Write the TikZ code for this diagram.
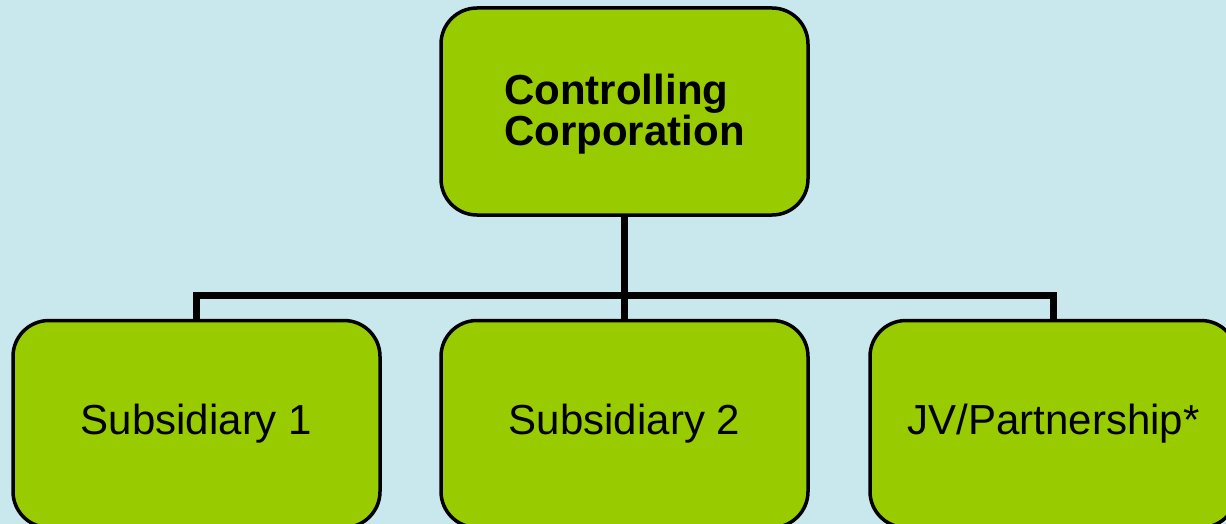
\documentclass[tikz,border=0pt]{standalone}
\usepackage{fontspec}
\setmainfont{Liberation Sans}
\definecolor{bgblue}{HTML}{C9E8EE}
\definecolor{boxgreen}{HTML}{99CC00}
\begin{document}
\begin{tikzpicture}[x=1pt,y=-1pt,
  orgbox/.style={draw=black, line width=3.5pt, fill=boxgreen, rounded corners=36pt,
    minimum width=367pt, minimum height=207pt, inner sep=0pt, font=\fontsize{42}{37}\selectfont},
  link/.style={line width=7pt}]
\useasboundingbox (0,0) rectangle (1226,524);
\clip (0,0) rectangle (1226,524);
\fill[bgblue] (0,0) rectangle (1226,524);
\node[orgbox] (top) at (624.5,111.5) {};
\node[align=left, inner sep=0pt, font=\fontsize{42}{37}\selectfont\bfseries] (toptext) at ([yshift=-2.5pt]top.center) {Controlling\\Corporation};
\node[orgbox] (s1) at (196.5,424) {Subsidiary 1};
\node[orgbox] (s2) at (624.5,424) {Subsidiary 2};
\node[orgbox] (jv) at (1053.5,424) {JV/Partnership*};
\coordinate (hl) at (196.5,295);
\coordinate (hm) at (624.5,295);
\coordinate (hr) at (1053.5,295);
\draw[link] (top.south) -- (hm);
\draw[link, line join=miter] (s1.north) -- (hl) -- (hr) -- (jv.north);
\draw[link] (hm) -- (s2.north);
\end{tikzpicture}
\end{document}
